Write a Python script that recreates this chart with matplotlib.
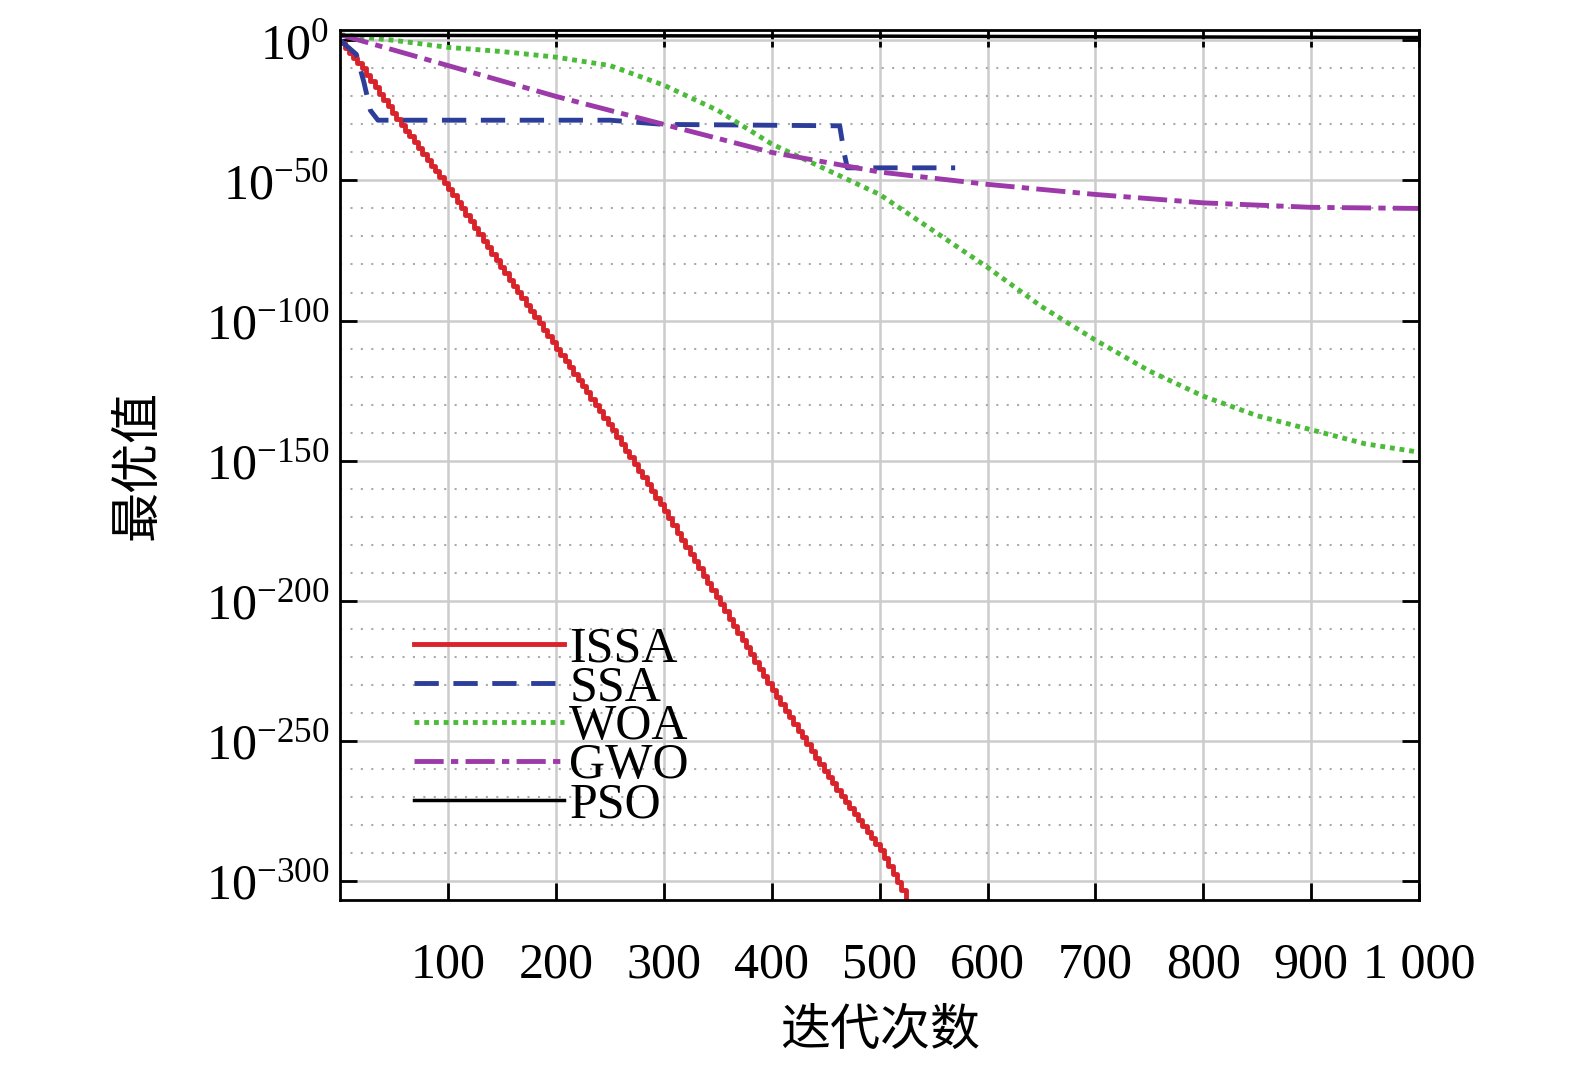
import numpy as np
import matplotlib.pyplot as plt

# exponents (log10 of best value)
issa_x = [0, 20, 50, 100, 150, 200, 250, 300, 350, 400, 450, 500, 525]
issa_y = [-1, -10, -27, -53, -82, -110, -138, -168, -200, -232, -262, -289, -307]
ssa_x = [0, 15, 22, 28, 35, 250, 300, 463, 467, 470, 570]
ssa_y = [0, -5, -15, -25, -28.5, -28.5, -30, -30.5, -40, -45.5, -45.5]
woa_x = [0, 50, 100, 150, 200, 250, 300, 350, 400, 450, 500, 550, 600, 650, 700, 750, 800, 850, 900, 950, 1000]
woa_y = [2, 0, -2.5, -4, -6, -9, -16, -25, -37, -46, -55, -68, -81, -95, -107, -118, -127, -134, -139, -144, -147]
gwo_x = [0, 100, 200, 300, 400, 500, 600, 700, 800, 900, 1000]
gwo_y = [2, -9, -20, -30, -40, -47, -51.4, -55, -58, -59.6, -60]
pso_x = [0, 500, 1000]
pso_y = [1.8, 1.5, 1.0]

plt.rcParams['font.family'] = ['Liberation Serif', 'Noto Sans CJK SC']

fig = plt.figure(figsize=(15.75, 10.81), dpi=100)
ax = fig.add_axes([0.216, 0.167, 0.685, 0.805])

xs = np.arange(0, 526, 4)
ax.step(xs, np.interp(xs, issa_x, issa_y), where='post', color='#d8232a', lw=3.5, label='ISSA')
ax.plot(ssa_x, ssa_y, color='#2c3e9a', lw=3.5, ls=(0, (5, 3)), label='SSA')
ax.plot(woa_x, woa_y, color='#4cbb3a', lw=3.5, ls=(0, (1, 1)), label='WOA')
ax.plot(gwo_x, gwo_y, color='#9b3aa8', lw=3.5, ls=(0, (6, 1.5, 1.5, 1.5)), label='GWO')
ax.plot(pso_x, pso_y, color='black', lw=2.5, label='PSO')

ax.set_xlim(0, 1000)
ax.set_ylim(-307, 3.6)
ax.set_xticks(range(100, 1001, 100))
ax.set_xticklabels([str(v) for v in range(100, 1000, 100)] + ['1 000'])
yt = list(range(0, -301, -50))
ax.set_yticks(yt)
ax.set_yticklabels([f'$\\mathregular{{10^{{{v}}}}}$'.replace('-', '−') for v in yt])
ax.set_yticks(range(-300, 1, 10), minor=True)
ax.tick_params(axis='both', which='major', direction='in', length=12, width=2,
               labelsize=36, top=True, right=True, pad=8)
ax.tick_params(axis='x', pad=30)
ax.tick_params(axis='y', which='minor', length=0)
ax.grid(True, which='major', color='#cccccc', lw=1.8)
ax.grid(True, which='minor', axis='y', color='#aaaaaa', lw=1.5, ls=(0, (1, 4)))
for s in ax.spines.values():
    s.set_linewidth(2)

ax.set_xlabel('迭代次数', fontsize=36, family='Noto Sans CJK SC', labelpad=12)
ax.set_ylabel('最优值', fontsize=36, family='Noto Sans CJK SC', labelpad=30)

ax.legend(loc='lower left', bbox_to_anchor=(0.05, 0.06), frameon=False, fontsize=36,
          handlelength=3.0, handletextpad=0.1, labelspacing=-0.15, borderaxespad=0)

fig.savefig('out.png', dpi=100)
